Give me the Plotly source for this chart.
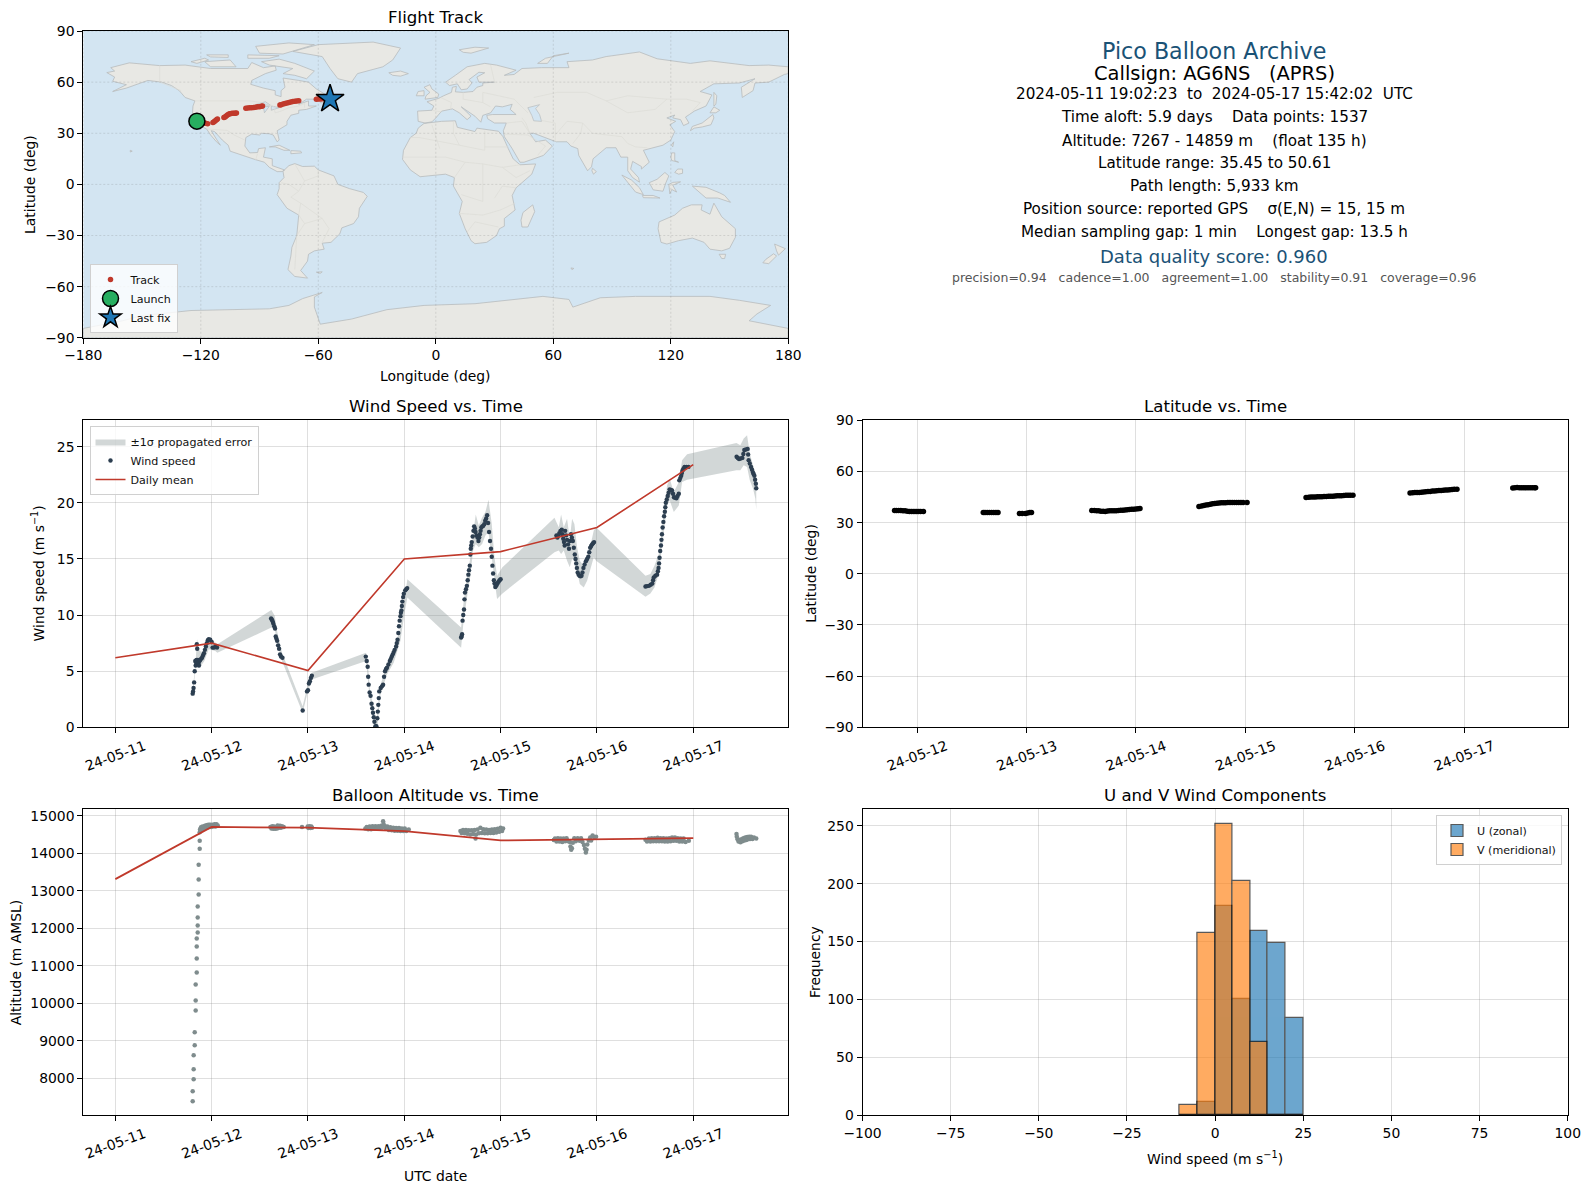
import pandas as pd
import plotly.graph_objects as go

W, H = 1590, 1189
RED = "#c0392b"
NAVY = "#2c3e50"
GREY = "#7f8c8d"
BLUE_T = "#1a5276"
OCEAN = "#d3e5f2"
GRID = "rgba(128,128,128,0.25)"
START = pd.Timestamp("2024-05-11")

# ---------------- map outlines (lon, lat) ----------------
north_america = [(-168,65.6),(-164,66.5),(-166,68.5),(-156.5,71.3),(-141,69.7),(-128,70),(-115,68),(-108,68),(-96,68),(-94,71.5),(-88,68.5),(-82,69.5),(-81.5,67),(-87,65),(-94,61),(-94.5,58.7),(-88,56.5),(-82,55),(-82,52.5),(-79,51.5),(-79,55),(-77,57),(-78,62.4),(-70,61),(-65,60),(-61,56),(-56,52.5),(-60,50),(-66,50),(-70,47),(-65,49),(-65,46),(-61,46),(-66,44),(-70,43.5),(-70,41.7),(-74,40.6),(-76,37),(-76,35),(-81,31.5),(-80,26),(-81,25),(-83,29),(-85,29.7),(-89,30),(-90,29),(-94,29.5),(-97,27.5),(-97.5,22.5),(-95,18.5),(-91,18.7),(-90.5,21),(-87,21.5),(-88,16),(-83.5,15),(-83.5,11),(-79.5,9.5),(-77.3,8.5),(-78.5,7.5),(-81,7.5),(-85,10),(-87.5,13),(-92,14.5),(-96,16),(-105,19.5),(-106,23),(-109,26),(-113,31),(-114.7,31.5),(-112,26.5),(-110,23),(-112,25),(-115,29),(-117,32.5),(-120.5,34.5),(-123,38),(-124.3,41),(-124,46),(-123,49),(-128,51),(-131,55),(-135,58),(-140,60),(-147,61),(-152,59),(-158,56.5),(-165,54.5),(-158,58.5),(-165,60.5),(-164,63)]
greenland = [(-73,78),(-60,82),(-32,83.5),(-18,80),(-22,73),(-27,69),(-40,65),(-43,60),(-50,62),(-54,68),(-58,75)]
baffin = [(-80,73.5),(-72,71),(-62,66.5),(-66,62),(-72,64),(-78,65),(-73,68),(-85,70),(-89,72)]
victoria_isl = [(-118,72),(-105,73),(-102,69),(-115,69)]
ellesmere = [(-90,77),(-78,76.5),(-62,82),(-75,83),(-92,81)]
banks_isl = [(-125,72),(-118,74),(-116,73),(-122,71)]
devon_isl = [(-96,76),(-80,75.5),(-85,74),(-96,74)]
melville_isl = [(-117,76),(-106,76),(-106,74.5),(-115,74.8)]
newfoundland = [(-59,48),(-56,51.5),(-53,47)]
cuba = [(-85,22),(-80,23),(-74.5,20),(-77.5,20),(-82,22)]
hispaniola = [(-74,19.8),(-69,19.5),(-68.5,18.5),(-74,18)]
iceland = [(-24,65.5),(-18,66.5),(-14,65),(-18,63.5),(-22,64)]
britain = [(-5.5,50),(1,51),(1.5,53),(-2,56),(-3,58.5),(-6,57),(-3,54),(-5,52)]
ireland = [(-10,52),(-6,52),(-6,55),(-9,54.5)]
svalbard = [(12,79),(20,80.5),(27,80),(18,77),(14,77.5)]
novaya_zemlya = [(52,71),(56,74),(68,77),(60,75.5),(57,71)]
honshu = [(130,31.5),(131,34),(136,36),(140,40),(141.5,41),(142,39),(140.5,35),(136,33.7),(132,33)]
hokkaido = [(140,42),(142,45.5),(145,43.5),(143,42)]
sakhalin = [(142,46),(142,54),(143.5,52),(143,47)]
taiwan = [(120.3,23),(121.5,25),(121,22)]
luzon = [(120,16),(120.5,18.5),(122,18.5),(122,14),(124,13),(120.5,14)]
mindanao = [(122,7),(123.5,9),(126,9),(126,6.5),(124,6)]
sumatra = [(95,5.5),(100,2.5),(104,-2),(106,-6),(102,-4.5),(98,1)]
java = [(105.5,-6.5),(111,-6.5),(114.5,-8),(106,-7.8)]
borneo = [(109,1),(113,3),(117,7),(119,5),(117.5,1),(116,-4),(111,-3.2),(110,-1)]
sulawesi = [(119.5,-5.5),(119,0),(121,1.2),(125,1.5),(121,-.5),(123,-4.5),(120.5,-3)]
new_guinea = [(131,-1),(138,-1.7),(145,-5),(147.5,-6.5),(150.5,-10.5),(144,-8),(138,-8),(134,-4)]
nz_north = [(173,-35),(178.5,-37.7),(175,-41.5),(174,-39)]
nz_south = [(172.5,-40.7),(174,-42),(170,-46.5),(167,-46),(168.5,-44)]
tasmania = [(144.7,-41),(148,-41),(147.5,-43.5),(146,-43.5)]
madagascar = [(49.5,-12),(50.5,-16),(47,-25),(44,-25),(43.5,-21),(44.5,-16.5)]
sri_lanka = [(80,9.5),(82,7.5),(80.5,6),(79.7,8)]
kerguelen = [(69,-49),(70.5,-49.3),(69.5,-50)]
falklands = [(-61,-51.5),(-58,-51.3),(-59,-52.2)]
hawaii = [(-156,20),(-155,19.5),(-156,19)]
south_america = [(-77.3,8.5),(-75,11),(-72,12.2),(-68,10.5),(-62,10.7),(-60,8.5),(-52,5),(-50,0),(-44,-2.5),(-37,-4.7),(-35,-7),(-39,-14),(-39.5,-19),(-42,-23),(-48,-25.5),(-49,-29),(-53.5,-34),(-58,-34.5),(-57,-38),(-62,-39),(-65,-41),(-65.5,-45),(-69,-50.5),(-65.5,-55),(-72,-54),(-75.5,-50),(-74,-42),(-73.5,-37),(-71,-30),(-70,-18),(-76,-14),(-81,-6),(-80,-2.5),(-80,1),(-77.5,4),(-78,7.5)]
africa = [(-6,35.8),(3,37),(10,37.3),(11,33.5),(20,31),(21,33),(32,31.2),(34.3,28),(37,21),(39.5,15),(43,11.5),(51,12),(49,6),(41,-2),(39,-6.5),(40.5,-15),(35,-20),(35,-24.5),(32.5,-26),(31,-30),(26,-34),(20,-34.8),(18,-33),(15,-26),(12,-17),(13.5,-10),(9,-1),(9.5,4),(5,6),(-4,5),(-8,4.5),(-13,8.5),(-17,14.7),(-16.5,20),(-13,27.5),(-10,30),(-9,33)]
eurasia = [(-9,37),(-9.3,43),(-2,43.5),(-1,46),(-4.5,48.5),(1.5,50.5),(4,52),(8,54),(8.5,57),(10.5,57.5),(10,54.3),(14,54),(19,54.5),(21,57),(24,58),(24,59.5),(30,60),(22,60),(21,63),(25,65.5),(22,65.8),(17,61.5),(18.5,59.5),(16,56),(13,55.5),(11,59),(7,58),(5,60),(10,64),(16,69),(25,71),(31,70),(41,67),(35,64),(40,64.5),(44,68),(54,68.5),(68,68.5),(67,72),(74,72.5),(80,73),(87,75),(104,77.7),(113,73.7),(130,71),(140,72.5),(160,69.7),(170,70),(180,69),(180,65),(178,64.5),(170,60),(163,59.5),(162,55),(156.5,51),(156,57),(163,62),(155,59.5),(142,59),(135,54.5),(141,52.5),(138,46),(132,43),(129.5,41),(127.5,39.5),(129.3,36),(126.5,34.5),(125,38),(121,39),(122,40.7),(118,39),(122.5,37),(119.5,35),(122,31),(120,26),(116,23),(110,21),(106,20),(109,13),(105,9),(105,10.5),(100.5,13.5),(99.5,9),(103.5,4),(104,1.3),(100.5,4),(98,8),(98,16),(94.5,16),(92,21.5),(87,21.5),(80.3,15),(79.5,10.3),(77.5,8),(73,17),(72.5,21),(69,22.5),(67,25),(61.5,25),(57,27),(50,30),(48,30),(51,25),(56,26),(59.5,22.5),(55,17),(45,13),(43,13),(39,21),(35,28),(34.5,31.5),(36,36),(30,36),(26.5,38.5),(26,40.5),(29,41),(41,41),(38,44),(39,47),(34,45.5),(30.5,46),(28,42),(24,40.5),(23,36.5),(20,40),(13,45.5),(18,40),(16,38),(12,42),(8.5,44.3),(3,43),(0,39),(-2,36.7),(-5.5,36)]
australia = [(114,-22),(122,-18),(126,-14),(130.5,-12),(136,-12),(135.5,-15),(140,-17.5),(142,-11),(146,-19),(153,-26),(153,-31),(150,-37.5),(146,-39),(140,-38),(137,-34),(131,-31.5),(124,-33),(118,-35),(115,-34),(113.5,-26)]
antarctica = [(-180,-90),(-180,-84.5),(-160,-80),(-150,-77),(-125,-74),(-100,-73.5),(-85,-73),(-75,-71),(-68,-67),(-58,-63.4),(-62,-66),(-62,-72),(-59,-82),(-43,-79),(-25,-73.5),(-6,-71),(20,-70),(54.7,-65.7),(68,-67.5),(70,-72),(84,-66.5),(102,-65.7),(140,-65.7),(155,-68),(171,-71),(164,-76),(160,-80),(180,-84.5),(180,-90)]
land_outlines = [north_america, greenland, baffin, victoria_isl, ellesmere, banks_isl, devon_isl, melville_isl, newfoundland, cuba, hispaniola, iceland, britain, ireland, svalbard, novaya_zemlya, honshu, hokkaido, sakhalin, taiwan, luzon, mindanao, sumatra, java, borneo, sulawesi, new_guinea, nz_north, nz_south, tasmania, madagascar, sri_lanka, kerguelen, falklands, hawaii, south_america, africa, eurasia, australia, antarctica]
caspian = [(47,45),(53,46.8),(51,44.5),(53,41),(54,37),(50,37.3),(49,40.5)]
lake_superior = [(-92,46.8),(-84.5,46.5),(-87,48.5)]
lake_michigan = [(-87.5,42),(-85,45.8),(-88,45.5)]
lake_huron = [(-84,43.5),(-84,46),(-80,45)]
water_outlines = [caspian, lake_superior, lake_michigan, lake_huron]
border_lines = [
 [(-141,69.7),(-141,60),(-130,55)], [(-123,49),(-95,49),(-89,48),(-83,46),(-82,42),(-79,43),(-75,45),(-70,46),(-67,47.5),(-67,45)],
 [(-117,32.5),(-106.5,31.7),(-103,29),(-97.5,26)], [(-92,14.5),(-91,18)],
 [(-70,-18),(-69,-11),(-74,-7.5),(-70,-4),(-75,0),(-79,1)], [(-70,-4),(-67,2),(-60,5),(-60,8.5)], [(-58,-20),(-69,-11)],
 [(-70,-18),(-67,-23),(-71,-30),(-72,-50)], [(-67,-23),(-58,-20),(-54.5,-26),(-58,-34)], [(-72,12),(-67,2)],
 [(-13,27.5),(-8.5,27.5),(12,23),(25,20),(25,31.5)], [(25,22),(37,22)], [(-17,16),(5,16),(15,13),(24,12),(34,10),(43,11.5)], [(9.5,4),(15,13)],
 [(24,12),(24,-10),(13,-6)], [(12,-17),(24,-18),(33,-15),(40.5,-11)], [(16,-28),(20,-22),(32,-25)], [(41,-2),(34,-1),(30,-8)], [(34,10),(41,4),(48,8)], [(-2,35),(2,21)], [(9,37),(9,30),(12,23)],
 [(28,70),(30,60)], [(24,54),(40,50),(47,42)], [(50,51),(62,54),(77,54),(87,49)], [(87,49),(98,52),(118,50),(128,50),(135,48),(131,43)], [(87,49),(98,42),(112,44),(118,50)],
 [(75,36),(80,30),(95,28),(98,24),(102,22),(108,21.5)], [(48,30),(46,36),(44,39)], [(61,25),(61,36),(54,37.5)], [(61,29),(67,37),(75,36),(74,30),(70,24)],
 [(-1.8,43.4),(3,42.5)], [(2.5,51),(8,48),(7.5,44)], [(14,54),(14,50),(24,48),(28,45.5)], [(24,54),(24,48)], [(35,29.5),(47,29),(56,22.5),(52,17)], [(36,36),(44,37),(48,30)],
]

# ---------------- flight track ----------------
track_lon = [-121.5,-120.5,-119.5,-118.5,-117.5,-116.5,-113.8,-113.2,-112.6,-112,-111.5,-108.2,-107.6,-107,-106.4,-105.8,-105.2,-104.5,-103.8,-103,-102.4,-101.8,-97,-96,-95,-94,-93,-92,-91,-90,-89,-88.5,-79.6,-79,-78,-77,-76,-75,-74,-73,-72,-71,-70,-61,-60,-59,-58,-57,-56,-55]
track_lat = [37,36.8,36.5,36.2,35.9,35.6,36.3,36.8,37.4,38,38.4,39.2,39.6,40.2,40.7,41.1,41.4,41.6,41.7,41.8,41.8,41.9,44.7,44.8,44.9,45,45.1,45.3,45.5,45.6,45.8,46,46.6,46.8,47.1,47.4,47.7,48,48.4,48.7,48.8,49,49.1,50,50.1,50.1,50.2,50.2,50.2,50.2]
launch_lon, launch_lat = [-122], [37.1]
last_lon, last_lat = [-54], [50.1]
lon_ticks = [-180,-120,-60,0,60,120,180]
lat_ticks = [-90,-60,-30,0,30,60,90]

# ---------------- wind speed samples (days after 05-11 00:00, m/s) ----------------
wind_seg1 = [(.803,3.0),(.807,3.2),(.812,3.5),(.818,4.0),(.824,5.0),(.83,5.9),(.834,5.5),(.838,5.8),(.842,6.0),(.846,7.4),(.85,7.0),(.856,6.0),(.862,5.7),(.868,5.5),(.874,5.9),(.88,6.0),(.89,6.1),(.90,6.2),(.91,6.4),(.92,6.6),(.93,6.9),(.94,7.2),(.95,7.5),(.96,7.75),(.97,7.85),(.985,7.8),(1.0,7.6),(1.01,7.1),(1.025,7.1),(1.04,7.2),(1.056,7.1)]
wind_seg2 = [(1.617,9.7),(1.625,9.6),(1.633,9.45),(1.64,9.25),(1.65,9.0),(1.658,8.8),(1.665,8.1),(1.672,7.9),(1.68,7.7),(1.69,7.3),(1.70,7.0),(1.71,6.5),(1.72,6.3),(1.735,6.2),(1.945,1.5)]
wind_seg3 = [(1.99,3.2),(2.0,3.3),(2.01,3.9),(2.02,4.1),(2.03,4.4),(2.04,4.6)]
wind_seg4 = [(2.60,6.3),(2.61,5.9),(2.62,5.4),(2.625,4.5),(2.63,3.8),(2.64,3.1),(2.65,2.8),(2.66,2.1),(2.668,1.7),(2.675,1.3),(2.683,.9),(2.69,.5),(2.70,.1),(2.71,.1),(2.72,.8),(2.725,1.4),(2.73,2.0),(2.735,2.6),(2.74,3.2),(2.755,3.5),(2.768,3.65),(2.78,3.8),(2.79,4.5),(2.80,5.0),(2.81,5.2),(2.82,5.3),(2.835,5.6),(2.85,5.9),(2.86,6.1),(2.87,6.3),(2.88,6.5),(2.89,6.7),(2.90,6.9),(2.915,7.2),(2.922,7.5),(2.93,7.8),(2.938,8.4),(2.945,9.0),(2.952,9.5),(2.96,9.9),(2.965,10.2),(2.97,10.4),(2.975,10.8),(2.98,11.2),(2.988,11.6),(2.995,11.9),(3.01,12.2),(3.02,12.3),(3.03,12.4)]
wind_seg5 = [(3.59,8.0),(3.595,8.1),(3.6,8.3),(3.605,9.5),(3.612,10.0),(3.62,10.5),(3.625,11.4),(3.63,12.0),(3.64,12.3),(3.65,12.6),(3.658,13.1),(3.665,13.6),(3.672,14.0),(3.68,14.4),(3.686,15.4),(3.69,15.9),(3.695,16.2),(3.70,16.5),(3.71,17.0),(3.718,17.5),(3.725,17.9),(3.733,17.7),(3.74,17.4),(3.75,17.1),(3.76,16.9),(3.77,16.6),(3.778,16.9),(3.785,17.2),(3.792,17.5),(3.8,17.8),(3.81,17.9),(3.82,17.95),(3.83,18.1),(3.84,18.4),(3.85,18.6),(3.86,18.9),(3.87,18.2),(3.88,17.4),(3.89,16.6),(3.9,15.9),(3.908,15.2),(3.915,14.4),(3.922,13.7),(3.93,13.1),(3.937,12.8),(3.945,12.5),(3.953,12.6),(3.96,12.7),(3.97,12.85),(3.98,13.0),(3.99,13.1),(4.0,13.2)]
wind_seg6 = [(4.58,17.1),(4.585,17.0),(4.59,16.9),(4.60,17.1),(4.61,17.3),(4.622,17.5),(4.635,17.6),(4.642,17.2),(4.65,16.8),(4.658,16.5),(4.665,16.2),(4.67,17.5),(4.68,17.1),(4.69,16.7),(4.70,16.3),(4.71,15.9),(4.72,16.6),(4.73,17.2),(4.74,16.9),(4.75,16.6),(4.76,16.0),(4.77,15.4),(4.778,15.0),(4.785,14.6),(4.792,14.2),(4.8,13.8),(4.81,13.6),(4.82,13.5),(4.83,13.45),(4.84,13.5),(4.85,13.8),(4.86,14.2),(4.872,14.5),(4.885,14.8),(4.898,15.0),(4.91,15.2),(4.92,15.6),(4.93,16.0),(4.94,16.15),(4.95,16.3),(4.96,16.4),(4.97,16.5)]
wind_seg7 = [(5.504,12.55),(5.52,12.58),(5.54,12.6),(5.558,12.7),(5.575,12.8),(5.583,13.1),(5.59,13.35),(5.607,13.5),(5.625,13.6),(5.633,13.9),(5.64,14.2),(5.645,14.6),(5.65,15.1),(5.657,15.7),(5.665,16.2),(5.67,16.7),(5.675,17.2),(5.682,17.8),(5.69,18.3),(5.697,18.8),(5.705,19.2),(5.71,19.6),(5.715,20.0),(5.725,20.3),(5.735,20.6),(5.745,20.9),(5.755,21.2),(5.768,21.15),(5.78,21.1),(5.79,20.8),(5.8,20.5),(5.812,20.45),(5.825,20.4),(5.837,20.6),(5.85,20.8),(5.855,22.0),(5.865,22.2),(5.875,22.4),(5.882,22.65),(5.89,22.9),(5.90,23.05),(5.91,23.2),(5.93,23.2),(5.95,23.2)]
wind_seg8 = [(6.45,24.1),(6.462,24.0),(6.475,23.9),(6.492,23.95),(6.51,24.0),(6.52,24.35),(6.53,24.7),(6.547,24.75),(6.565,24.8),(6.57,24.3),(6.575,23.8),(6.587,23.5),(6.6,23.2),(6.61,22.95),(6.62,22.7),(6.628,22.55),(6.635,22.4),(6.642,22.05),(6.65,21.7),(6.654,21.3)]
wind_samples = wind_seg1 + wind_seg2 + wind_seg3 + wind_seg4 + wind_seg5 + wind_seg6 + wind_seg7 + wind_seg8

# +/-1 sigma envelope: (day, upper, lower)
wind_band = [(.803,3.37,2.68),(.831,5.6,5.16),(.848,7.84,6.05),(.876,6.8,5.3),(.924,6.65,5.9),(.969,8.0,6.95),(1.038,7.55,6.8),(1.059,7.4,6.65),(1.62,10.46,8.88),(1.655,9.93,8.73),(1.679,8.58,7.54),(1.731,6.65,5.9),(1.945,1.88,1.28),(1.99,3.5,2.92),(2.039,4.86,4.26),(2.603,6.65,5.9),(2.62,5.9,4.86),(2.641,3.5,2.62),(2.683,1.58,.98),(2.703,.09,0),(2.72,1.28,0),(2.752,3.8,2.9),(2.82,5.45,4.7),(2.89,6.95,5.75),(2.96,8.9,7.7),(3.0,11.27,10.07),(3.032,13.2,11.56),(3.59,8.88,7.09),(3.617,11.27,9.63),(3.651,13.35,11.56),(3.686,15.14,13.5),(3.714,17.2,15.74),(3.742,18.96,16.33),(3.773,17.97,16.04),(3.808,18.7,16.33),(3.842,19.17,17.08),(3.874,20.27,17.38),(3.908,18.12,15.0),(3.936,15.14,13.2),(3.963,13.5,11.42),(4.019,14.25,11.92),(4.559,18.66,15.59),(4.604,17.82,15.74),(4.628,18.96,15.44),(4.656,17.82,15.74),(4.69,18.57,14.84),(4.718,16.78,14.25),(4.742,18.57,15.0),(4.766,18.12,14.84),(4.794,16.04,13.95),(4.822,14.84,12.76),(4.863,14.4,12.46),(4.898,15.14,13.05),(4.932,16.18,14.1),(4.967,17.53,15.14),(4.991,17.82,14.84),(5.504,13.5,11.62),(5.555,13.65,11.92),(5.597,14.4,12.46),(5.642,15.44,13.65),(5.669,17.23,15.14),(5.694,19.31,17.38),(5.728,21.55,19.76),(5.756,22.15,20.21),(5.798,20.95,19.17),(5.85,21.85,19.76),(5.884,23.79,21.85),(5.936,24.32,22.06),(6.448,25.33,22.89),(6.489,25.13,22.89),(6.524,25.72,23.34),(6.559,26.02,23.19),(6.587,24.38,22.0),(6.621,23.34,21.25),(6.645,22.59,20.36),(6.654,21.7,19.37)]

mean_days = [0,1,2,3,4,5,6]
wind_daily_mean = [6.2,7.5,5.05,15.0,15.65,17.8,23.4]
alt_daily_mean = [13310,14700,14680,14590,14340,14380,14400]

# ---------------- latitude samples ----------------
lat_samples = [(.793,37.1),(.81,37.1),(.83,37.1),(.85,37.1),(.87,37.0),(.89,36.9),(.91,36.7),(.93,36.6),(.95,36.6),(.97,36.5),(.99,36.5),(1.01,36.5),(1.03,36.5),(1.057,36.5),
 (1.604,35.9),(1.62,35.9),(1.64,35.9),(1.66,35.9),(1.68,35.9),(1.70,35.9),(1.72,35.9),(1.739,35.9),
 (1.935,35.3),(1.96,35.4),(1.99,35.4),(2.01,35.6),(2.03,35.9),(2.045,36.0),
 (2.596,37.1),(2.62,37.1),(2.64,37.0),(2.66,36.9),(2.68,36.7),(2.70,36.7),(2.72,36.6),(2.74,36.8),(2.76,36.9),(2.78,36.9),(2.80,37.0),(2.82,37.0),(2.84,37.1),(2.86,37.2),(2.88,37.3),(2.90,37.4),(2.92,37.5),(2.94,37.7),(2.96,37.8),(2.98,37.9),(3.0,38.0),(3.02,38.2),(3.037,38.3),
 (3.576,39.5),(3.60,39.8),(3.62,40.0),(3.64,40.3),(3.66,40.5),(3.68,40.8),(3.70,41.0),(3.72,41.2),(3.74,41.4),(3.76,41.5),(3.78,41.6),(3.80,41.7),(3.82,41.7),(3.84,41.8),(3.86,41.8),(3.88,41.8),(3.90,41.8),(3.92,41.8),(3.94,41.8),(3.96,41.8),(3.98,41.8),(4.016,41.8),
 (4.555,44.8),(4.58,44.9),(4.60,45.0),(4.62,45.1),(4.64,45.1),(4.66,45.2),(4.68,45.2),(4.70,45.2),(4.72,45.3),(4.74,45.3),(4.76,45.4),(4.78,45.4),(4.80,45.5),(4.82,45.6),(4.84,45.7),(4.86,45.8),(4.88,45.8),(4.90,45.9),(4.92,46.0),(4.94,46.0),(4.96,46.0),(4.984,46.0),
 (5.506,47.4),(5.53,47.5),(5.55,47.6),(5.57,47.6),(5.59,47.7),(5.61,47.8),(5.63,48.0),(5.65,48.1),(5.67,48.2),(5.69,48.3),(5.71,48.5),(5.73,48.6),(5.75,48.7),(5.77,48.8),(5.79,48.9),(5.81,49.0),(5.83,49.1),(5.85,49.2),(5.87,49.3),(5.89,49.4),(5.91,49.5),(5.935,49.5),
 (6.445,50.3),(6.465,50.5),(6.485,50.6),(6.505,50.5),(6.525,50.5),(6.545,50.5),(6.565,50.5),(6.585,50.5),(6.605,50.5),(6.625,50.5),(6.645,50.5),(6.654,50.5)]

# ---------------- altitude samples ----------------
alt_climb = [(.803,7388),(.803,7654),(.813,7973),(.813,8240),(.813,8612),(.824,8878),(.824,9224),(.834,9810),(.834,10076),(.834,10502),(.845,10822),(.845,11194),(.845,11514),(.845,11727),(.855,11886),(.855,12073),(.855,12286),(.855,12579),(.865,12898),(.865,13297),(.865,13696),(.876,14122),(.876,14335)]
alt_float = [(.876,14560),(.88,14640),(.885,14610),(.89,14690),(.895,14640),(.905,14710),(.91,14640),(.915,14700),(.925,14660),(.93,14730),(.935,14680),(.945,14740),(.95,14680),(.955,14750),(.965,14700),(.97,14760),(.975,14700),(.985,14760),(.995,14700),(1.005,14760),(1.015,14710),(1.03,14770),(1.04,14710),(1.05,14770),(1.063,14740),
 (1.61,14700),(1.62,14660),(1.63,14720),(1.64,14650),(1.65,14710),(1.66,14650),(1.67,14700),(1.68,14660),(1.685,14740),(1.70,14680),(1.71,14730),(1.72,14680),(1.73,14720),(1.748,14700),
 (1.938,14700),(1.997,14710),(2.005,14670),(2.015,14720),(2.025,14670),(2.035,14710),(2.042,14680),
 (2.596,14660),(2.61,14700),(2.625,14640),(2.64,14710),(2.655,14640),(2.67,14720),(2.685,14650),(2.70,14720),(2.715,14650),(2.73,14720),(2.745,14660),(2.76,14730),(2.77,14680),(2.78,14850),(2.785,14780),(2.80,14720),(2.81,14650),(2.825,14710),(2.84,14620),(2.855,14690),(2.87,14610),(2.885,14680),(2.90,14600),(2.915,14670),(2.93,14600),(2.945,14670),(2.96,14590),(2.975,14660),(2.99,14590),(3.005,14660),(3.02,14590),(3.046,14630),
 (3.583,14590),(3.595,14540),(3.61,14620),(3.625,14530),(3.64,14620),(3.655,14520),(3.67,14610),(3.685,14500),(3.70,14610),(3.715,14510),(3.73,14620),(3.74,14390),(3.745,14500),(3.76,14630),(3.775,14530),(3.79,14680),(3.805,14540),(3.82,14640),(3.835,14530),(3.85,14630),(3.865,14530),(3.88,14620),(3.895,14540),(3.91,14630),(3.925,14540),(3.94,14640),(3.955,14550),(3.97,14650),(3.985,14570),(4.0,14680),(4.015,14590),(4.026,14660),
 (4.552,14350),(4.565,14390),(4.58,14310),(4.595,14400),(4.61,14310),(4.625,14390),(4.64,14300),(4.655,14390),(4.67,14320),(4.685,14400),(4.70,14320),(4.72,14300),(4.725,14180),(4.733,14090),(4.74,14130),(4.75,14280),(4.765,14400),(4.78,14320),(4.80,14400),(4.82,14330),(4.835,14400),(4.85,14300),(4.865,14220),(4.875,14120),(4.885,14020),(4.892,14090),(4.90,14230),(4.915,14340),(4.93,14420),(4.94,14340),(4.955,14470),(4.97,14430),(4.991,14440),
 (5.504,14360),(5.52,14310),(5.54,14390),(5.555,14310),(5.57,14400),(5.585,14320),(5.60,14400),(5.615,14320),(5.63,14410),(5.645,14320),(5.66,14400),(5.675,14320),(5.69,14400),(5.705,14310),(5.72,14390),(5.735,14310),(5.75,14400),(5.765,14320),(5.78,14420),(5.795,14330),(5.81,14420),(5.825,14330),(5.84,14400),(5.855,14310),(5.87,14390),(5.885,14310),(5.90,14390),(5.92,14300),(5.954,14330),
 (6.449,14510),(6.452,14440),(6.46,14370),(6.47,14310),(6.48,14350),(6.49,14290),(6.50,14370),(6.51,14320),(6.52,14400),(6.53,14340),(6.54,14420),(6.55,14350),(6.56,14430),(6.57,14370),(6.58,14440),(6.59,14380),(6.60,14440),(6.615,14380),(6.63,14420),(6.654,14390)]
alt_samples = alt_climb + alt_float

# ---------------- histogram ----------------
hist_centers = [-7.5,-2.5,2.5,7.5,12.5,17.5,22.5]
u_counts = [0,11,181,100,159,149,84]
v_counts = [9,157,252,202,63,0,0]

info_lines = [
 ("Pico Balloon Archive", 50.7, 22.2, BLUE_T),
 ("Callsign: AG6NS\u00a0\u00a0\u00a0(APRS)", 73.3, 19.44, "black"),
 ("2024-05-11 19:02:23\u00a0\u00a0to\u00a0\u00a02024-05-17 15:42:02\u00a0\u00a0UTC", 94.3, 15.2, "black"),
 ("Time aloft: 5.9 days\u00a0\u00a0\u00a0\u00a0Data points: 1537", 117.3, 15.2, "black"),
 ("Altitude: 7267 - 14859 m\u00a0\u00a0\u00a0\u00a0(float 135 h)", 140.7, 15.2, "black"),
 ("Latitude range: 35.45 to 50.61", 163.3, 15.2, "black"),
 ("Path length: 5,933 km", 186, 15.2, "black"),
 ("Position source: reported GPS\u00a0\u00a0\u00a0\u00a0σ(E,N) = 15, 15 m", 209.3, 15.2, "black"),
 ("Median sampling gap: 1 min\u00a0\u00a0\u00a0\u00a0Longest gap: 13.5 h", 232.3, 15.2, "black"),
 ("Data quality score: 0.960", 256.7, 18, BLUE_T),
 ("precision=0.94\u00a0\u00a0\u00a0cadence=1.00\u00a0\u00a0\u00a0agreement=1.00\u00a0\u00a0\u00a0stability=0.91\u00a0\u00a0\u00a0coverage=0.96", 278, 12.5, "#555555"),
]

def dates(days):
    return [START + pd.Timedelta(days=d) for d in days]

def joined(outlines, close=True):
    xs, ys = [], []
    for o in outlines:
        pts = o + [o[0]] if close else o
        xs += [p[0] for p in pts] + [None]
        ys += [p[1] for p in pts] + [None]
    return xs, ys

fig = go.Figure()

# Map
lx, ly = joined(land_outlines)
fig.add_trace(go.Scatter(x=lx, y=ly, mode="lines", fill="toself", fillcolor="#e8e8e4", line=dict(color="#b8bbbd", width=0.8), showlegend=False, hoverinfo="skip", xaxis="x", yaxis="y"))
wx, wy = joined(water_outlines)
fig.add_trace(go.Scatter(x=wx, y=wy, mode="lines", fill="toself", fillcolor=OCEAN, line=dict(color="#b8bbbd", width=0.7), showlegend=False, hoverinfo="skip", xaxis="x", yaxis="y"))
bx, by = joined(border_lines, close=False)
fig.add_trace(go.Scatter(x=bx, y=by, mode="lines", line=dict(color="#dcdcd7", width=0.7), showlegend=False, hoverinfo="skip", xaxis="x", yaxis="y"))
gx, gy = [], []
for t in lon_ticks:
    gx += [t, t, None]; gy += [lat_ticks[0], lat_ticks[-1], None]
for t in lat_ticks:
    gx += [lon_ticks[0], lon_ticks[-1], None]; gy += [t, t, None]
fig.add_trace(go.Scatter(x=gx, y=gy, mode="lines", line=dict(color="rgba(110,110,110,0.25)", width=0.8, dash="2px,2px"), showlegend=False, hoverinfo="skip", xaxis="x", yaxis="y"))
fig.add_trace(go.Scatter(x=track_lon, y=track_lat, mode="markers", name="Track", marker=dict(color=RED, size=5.5), xaxis="x", yaxis="y", legend="legend"))
fig.add_trace(go.Scatter(x=launch_lon, y=launch_lat, mode="markers", name="Launch", marker=dict(color="#27ae60", size=16, line=dict(color="black", width=1.5)), xaxis="x", yaxis="y", legend="legend"))
fig.add_trace(go.Scatter(x=last_lon, y=last_lat, mode="markers", name="Last fix", marker=dict(color="#1f77b4", size=21, symbol="star", line=dict(color="black", width=1.5)), xaxis="x", yaxis="y", legend="legend"))

# Wind
bd = [b[0] for b in wind_band]
fig.add_trace(go.Scatter(x=dates(bd + bd[::-1]), y=[b[1] for b in wind_band] + [b[2] for b in wind_band][::-1], mode="lines", fill="toself", fillcolor="rgba(127,140,141,0.35)", line=dict(width=0, color="rgba(127,140,141,0.35)"), name="±1σ propagated error", xaxis="x3", yaxis="y3", legend="legend2"))
fig.add_trace(go.Scatter(x=dates([s[0] for s in wind_samples]), y=[s[1] for s in wind_samples], mode="markers", marker=dict(color=NAVY, size=4.4), name="Wind speed", xaxis="x3", yaxis="y3", legend="legend2"))
fig.add_trace(go.Scatter(x=dates(mean_days), y=wind_daily_mean, mode="lines", line=dict(color=RED, width=1.6), name="Daily mean", xaxis="x3", yaxis="y3", legend="legend2"))

# Latitude
fig.add_trace(go.Scatter(x=dates([s[0] for s in lat_samples]), y=[s[1] for s in lat_samples], mode="markers", marker=dict(color="black", size=5.5), showlegend=False, xaxis="x4", yaxis="y4"))

# Altitude
fig.add_trace(go.Scatter(x=dates([s[0] for s in alt_samples]), y=[s[1] for s in alt_samples], mode="markers", marker=dict(color=GREY, size=4.5), showlegend=False, xaxis="x5", yaxis="y5"))
fig.add_trace(go.Scatter(x=dates(mean_days), y=alt_daily_mean, mode="lines", line=dict(color=RED, width=1.8), showlegend=False, xaxis="x5", yaxis="y5"))

# Histogram
fig.add_trace(go.Bar(x=hist_centers, y=u_counts, width=5, name="U (zonal)", marker=dict(color="#1f77b4", line=dict(color="black", width=1.2)), opacity=0.65, xaxis="x6", yaxis="y6", legend="legend3"))
fig.add_trace(go.Bar(x=hist_centers, y=v_counts, width=5, name="V (meridional)", marker=dict(color="#ff7f0e", line=dict(color="black", width=1.2)), opacity=0.65, xaxis="x6", yaxis="y6", legend="legend3"))

def dom(a, b, size):
    return [a / size, b / size]

def ydom(top, bottom):
    return [1 - bottom / H, 1 - top / H]

FS = 13.9
AX = dict(showline=True, linecolor="black", linewidth=1, mirror=True, ticks="outside", ticklen=5, tickcolor="black", tickwidth=1, automargin=False,
          gridcolor=GRID, gridwidth=1, zeroline=False, tickfont=dict(size=FS, color="black"))
DATEAX = dict(AX, type="date", tickformat="%y-%m-%d", dtick=86400000, tick0="2024-05-11", tickangle=-20, ticklabelshift=29)

L0, L1, R0, R1 = 83.3, 788.3, 862.5, 1567.7
T1, B1, T2, B2, T3, B3 = 31, 337.8, 420.3, 727.3, 809, 1115

def leg(x, y, xa="left", ya="top", size=11.1):
    return dict(x=x / W, y=1 - y / H, xanchor=xa, yanchor=ya, xref="paper", yref="paper", bgcolor="rgba(255,255,255,0.8)", bordercolor="#d0d0d0", borderwidth=1,
                font=dict(size=size, color="#111111"), itemsizing="trace", tracegroupgap=0)

fig.update_layout(
    width=W, height=H, margin=dict(l=0, r=0, t=0, b=0), paper_bgcolor="white", plot_bgcolor="white",
    font=dict(family="DejaVu Sans", color="black"), barmode="overlay", bargap=0, showlegend=True,
    xaxis=dict(AX, domain=dom(L0, L1, W), range=[-180, 180], tickvals=lon_ticks, showgrid=False, anchor="y"),
    yaxis=dict(AX, domain=ydom(T1, B1), range=[-90, 90], tickvals=lat_ticks, showgrid=False, anchor="x"),
    xaxis3=dict(DATEAX, domain=dom(L0, L1, W), range=["2024-05-10 16:01", "2024-05-17 23:41"], anchor="y3"),
    yaxis3=dict(AX, domain=ydom(T2, B2), range=[0, 27.35], tickvals=[0, 5, 10, 15, 20, 25], anchor="x3"),
    xaxis4=dict(DATEAX, domain=dom(R0, R1, W), range=["2024-05-11 12:00", "2024-05-17 22:44"], anchor="y4"),
    yaxis4=dict(AX, domain=ydom(T2, B2), range=[-90, 90], tickvals=lat_ticks, anchor="x4"),
    xaxis5=dict(DATEAX, domain=dom(L0, L1, W), range=["2024-05-10 16:01", "2024-05-17 23:41"], anchor="y5"),
    yaxis5=dict(AX, domain=ydom(T3, B3), range=[7021, 15179], tickvals=list(range(8000, 15001, 1000)), tickformat="d", anchor="x5"),
    xaxis6=dict(AX, domain=dom(R0, R1, W), range=[-100, 100], tickvals=[-100, -75, -50, -25, 0, 25, 50, 75, 100], ticktext=["−100", "−75", "−50", "−25", "0", "25", "50", "75", "100"], anchor="y6"),
    yaxis6=dict(AX, domain=ydom(T3, B3), range=[0, 264.6], tickvals=[0, 50, 100, 150, 200, 250], anchor="x6"),
    legend=leg(89.5, 333, ya="bottom"),
    legend2=leg(89.5, 426),
    legend3=leg(1562, 815, xa="right"),
    shapes=[dict(type="rect", xref="x", yref="y", x0=lon_ticks[0], x1=lon_ticks[-1], y0=lat_ticks[0], y1=lat_ticks[-1], fillcolor=OCEAN, line=dict(width=0), layer="below")],
)

anns = []
LC, RC = (L0 + L1) / 2, (R0 + R1) / 2
for text, xc, yc in [("Flight Track", LC, T1 - 13), ("Wind Speed vs. Time", LC, T2 - 13.5), ("Latitude vs. Time", RC, T2 - 13.5),
                     ("Balloon Altitude vs. Time", LC, T3 - 13.5), ("U and V Wind Components", RC, T3 - 13.5)]:
    anns.append(dict(text=text, x=xc / W, y=1 - yc / H, xref="paper", yref="paper", showarrow=False, xanchor="center", yanchor="middle", font=dict(size=16.6, color="black")))
for text, yc, size, col in info_lines:
    anns.append(dict(text=text, x=1214 / W, y=1 - yc / H, xref="paper", yref="paper", showarrow=False, xanchor="center", yanchor="middle", font=dict(size=size, color=col)))
# axis titles, placed where the reference has them
for text, xc, yc in [("Longitude (deg)", LC, 376), ("UTC date", LC, 1175.8), ("Wind speed (m s<sup>−1</sup>)", RC, 1157.5)]:
    anns.append(dict(text=text, x=xc / W, y=1 - yc / H, xref="paper", yref="paper", showarrow=False, xanchor="center", yanchor="middle", font=dict(size=FS, color="black")))
for text, xc, yc in [("Latitude (deg)", 30.5, (T1 + B1) / 2), ("Wind speed (m s<sup>−1</sup>)", 37.6, (T2 + B2) / 2), ("Latitude (deg)", 811, (T2 + B2) / 2),
                     ("Altitude (m AMSL)", 16.3, (T3 + B3) / 2), ("Frequency", 815, (T3 + B3) / 2)]:
    anns.append(dict(text=text, x=xc / W, y=1 - yc / H, xref="paper", yref="paper", showarrow=False, xanchor="center", yanchor="middle", textangle=-90, font=dict(size=FS, color="black")))
fig.update_layout(annotations=anns)

fig.write_html("out.html", post_script="document.body.style.margin='0';", config={"displayModeBar": False})
